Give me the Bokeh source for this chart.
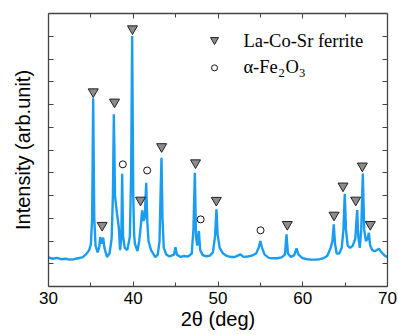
from bokeh.plotting import figure
from bokeh.models import LinearAxis, FixedTicker, Range1d, Label
from bokeh.embed import file_html
from bokeh.resources import INLINE

# ---- data ----
two_theta = [30.0, 30.5, 31.0, 31.5, 32.0, 32.5, 33.0, 33.5, 34.0, 34.4, 34.8, 35.0, 35.15, 35.27, 35.4,
             35.55, 35.8, 36.0, 36.1, 36.3, 36.45, 36.6, 36.9, 37.2, 37.45, 37.6, 37.71, 37.85, 38.0,
             38.15, 38.3, 38.45, 38.6, 38.69, 38.8, 39.0, 39.3, 39.6, 39.75, 39.87, 40.0, 40.1, 40.2,
             40.5, 40.7, 40.9, 41.05, 41.2, 41.35, 41.53, 41.65, 41.8, 42.1, 42.6, 42.9, 43.1, 43.22,
             43.33, 43.45, 43.6, 43.9, 44.3, 44.8, 44.98, 45.15, 45.6, 46.0, 46.5, 46.9, 47.1, 47.27,
             47.4, 47.55, 47.74, 47.9, 48.2, 48.6, 49.0, 49.4, 49.65, 49.82, 49.95, 50.2, 50.6, 51.0,
             51.5, 52.0, 52.65, 53.0, 53.5, 54.0, 54.5, 54.8, 55.0, 55.2, 55.5, 56.0, 56.5, 57.0, 57.5,
             57.9, 58.08, 58.25, 58.6, 59.0, 59.26, 59.5, 60.0, 60.5, 61.0, 61.5, 62.0, 62.5, 62.9,
             63.3, 63.5, 63.66, 63.8, 64.0, 64.3, 64.6, 64.8, 64.96, 65.1, 65.3, 65.6, 65.9, 66.2,
             66.42, 66.55, 66.73, 66.9, 67.09, 67.25, 67.45, 67.65, 67.8, 67.95, 68.2, 68.5, 68.8,
             69.0, 69.3, 69.7, 70.0]
intensity = [28, 22, 26, 20, 22, 18, 20, 24, 28, 40, 60, 85, 200, 727, 200,
             80, 50, 75, 117, 88, 115, 70, 30, 45, 110, 300, 657, 300, 246,
             200, 158, 60, 120, 396, 120, 70, 60, 120, 400, 1001, 300, 130, 87,
             56, 100, 170, 235, 188, 200, 356, 190, 100, 60, 29, 40, 100, 300,
             466, 200, 70, 40, 32, 40, 73, 40, 30, 34, 32, 45, 150, 400,
             120, 80, 144, 60, 38, 33, 35, 50, 120, 239, 130, 70, 45, 35,
             30, 30, 41, 30, 32, 36, 45, 70, 100, 70, 40, 26, 24, 24, 28,
             40, 129, 45, 30, 38, 68, 40, 24, 20, 18, 18, 20, 25, 35,
             70, 100, 173, 90, 45, 45, 70, 150, 308, 150, 80, 70, 80, 110,
             236, 120, 70, 150, 397, 150, 100, 110, 136, 80, 60, 55, 62,
             65, 50, 35, 29]

ferrite_x = [35.28, 36.33, 37.79, 39.91, 40.86, 43.35, 47.35, 49.8, 58.18, 63.69, 64.75, 66.25, 67.03, 67.97]
ferrite_y = [756, 169, 711, 1033, 280, 515, 444, 279, 173, 214, 342, 280, 430, 173]
hematite_x = [38.77, 41.64, 47.95, 55.02]
hematite_y = [437, 410, 195, 147]

x_ticks = [30, 40, 50, 60, 70]
x_minor_ticks = [35, 45, 55, 65]
y_ticks = [0, 100, 200, 300, 400, 500, 600, 700, 800, 900, 1000]

legend_ferrite = "La-Co-Sr ferrite"
legend_hematite = ["\u03b1-Fe", "2", "O", "3"]
x_title = "2\u03b8 (deg)"
y_title = "Intensity (arb.unit)"

# ---- figure ----
p = figure(width=398, height=335, output_backend="svg", toolbar_location=None,
           x_range=Range1d(30, 70), y_range=Range1d(-100, 1100),
           min_border_left=48, min_border_right=11, min_border_top=13, min_border_bottom=49,
           background_fill_color="white", border_fill_color="white")
p.outline_line_color = None
p.xgrid.visible = False
p.ygrid.visible = False

AX = "#444444"
SANS = "Liberation Sans"
SERIF = "Liberation Serif"


def style_axis(ax, ticker, labels):
    ax.ticker = ticker
    ax.axis_line_color = AX
    ax.axis_line_width = 1.3
    ax.major_tick_line_color = AX
    ax.minor_tick_line_color = AX
    ax.major_tick_in = 5
    ax.major_tick_out = 0
    ax.minor_tick_in = 4
    ax.minor_tick_out = 0
    if labels:
        ax.major_label_text_font = SANS
        ax.major_label_text_font_size = "17px"
        ax.major_label_text_color = "black"
        ax.major_label_standoff = 5
    else:
        ax.major_label_text_font_size = "0px"
        ax.major_label_text_color = None
        ax.major_label_standoff = 0


def style_title(ax, text, standoff):
    ax.axis_label = text
    ax.axis_label_text_font = SANS
    ax.axis_label_text_font_size = "20px"
    ax.axis_label_text_font_style = "normal"
    ax.axis_label_text_color = "black"
    ax.axis_label_standoff = standoff


xt = FixedTicker(ticks=x_ticks, minor_ticks=x_minor_ticks)
yt = FixedTicker(ticks=y_ticks, minor_ticks=[])

style_axis(p.xaxis[0], xt, True)
style_title(p.xaxis[0], x_title, 1)
style_axis(p.yaxis[0], yt, False)
style_title(p.yaxis[0], y_title, 15)

top_ax = LinearAxis()
style_axis(top_ax, FixedTicker(ticks=x_ticks, minor_ticks=x_minor_ticks), False)
p.add_layout(top_ax, "above")
right_ax = LinearAxis()
style_axis(right_ax, FixedTicker(ticks=y_ticks, minor_ticks=[]), False)
p.add_layout(right_ax, "right")

# ---- data ----
p.line(two_theta, intensity, line_color="#1a9df0", line_width=2.4)
p.scatter(ferrite_x, ferrite_y, marker="inverted_triangle", size=10,
          fill_color="#8c8c8c", line_color="#222222", line_width=1)
p.scatter(hematite_x, hematite_y, marker="circle", size=7,
          fill_color="white", line_color="#111111", line_width=1)

# ---- legend (manual) ----
p.scatter([49.59], [984], marker="inverted_triangle", size=8,
          fill_color="#8c8c8c", line_color="#222222", line_width=1)
p.scatter([49.59], [861], marker="circle", size=6,
          fill_color="white", line_color="#111111", line_width=1)


def lab(x, y, text, size, font, style="normal"):
    p.add_layout(Label(x=x, y=y, text=text, text_font=font, text_font_size=size,
                       text_font_style=style, text_baseline="middle", text_align="left",
                       text_color="black"))


lab(53.0, 979, legend_ferrite, "18.5px", SERIF)
lab(53.0, 865, legend_hematite[0], "18.5px", SERIF)
lab(57.15, 838, legend_hematite[1], "12.5px", SERIF)
lab(57.95, 865, legend_hematite[2], "18.5px", SERIF)
lab(59.55, 838, legend_hematite[3], "12.5px", SERIF)

open("out.html", "w").write(file_html(p, INLINE))
